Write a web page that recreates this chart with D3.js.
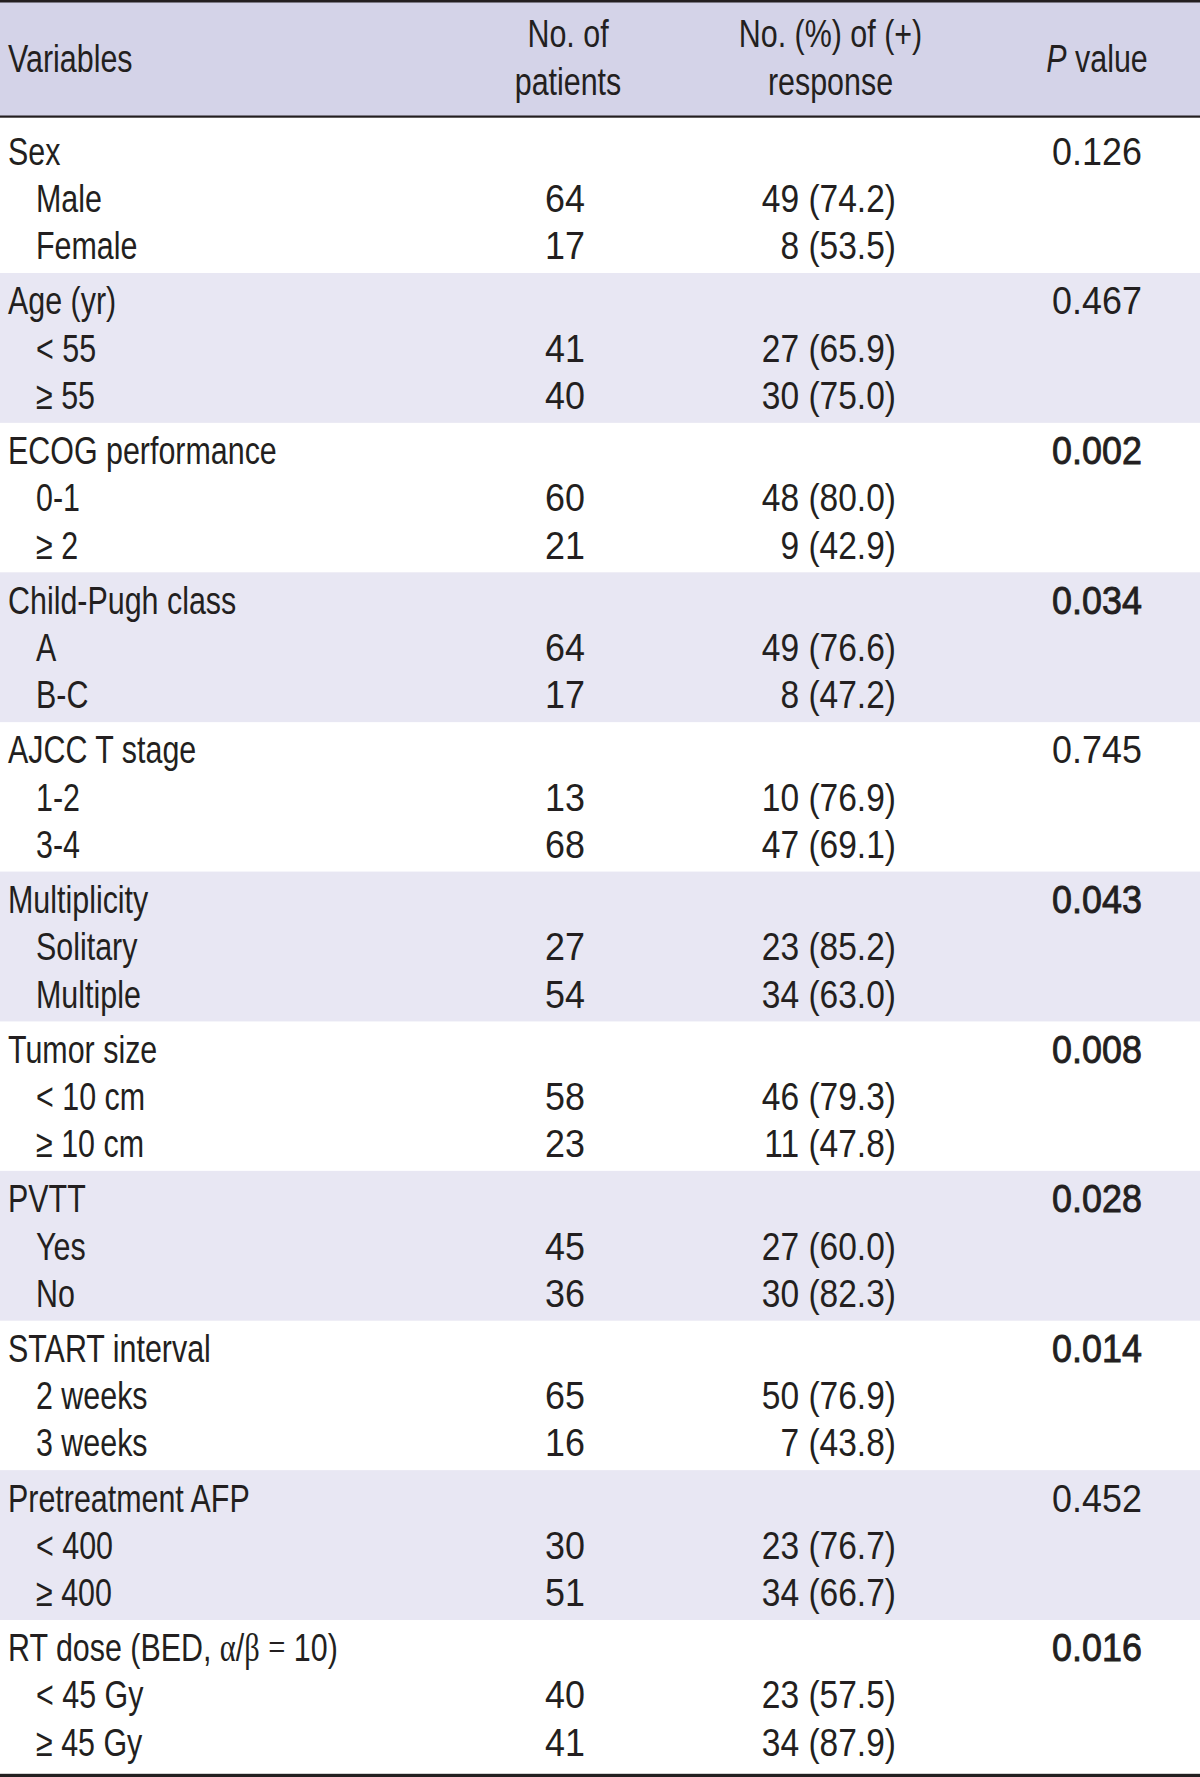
<!DOCTYPE html>
<html>
<head>
<meta charset="utf-8">
<script src="https://cdn.jsdelivr.net/npm/d3@7"></script>
<style>
  html, body { margin: 0; padding: 0; background: #ffffff; }
  svg { display: block; }
  text { font-family: 'Liberation Sans', Arial, sans-serif; fill: #231f20; }
</style>
</head>
<body>
<svg id="chart"></svg>
<script>
// ---- data ----
const groups = ["Sex", "Age (yr)", "ECOG performance", "Child-Pugh class", "AJCC T stage",
  "Multiplicity", "Tumor size", "PVTT", "START interval", "Pretreatment AFP", "RT dose (BED, α/β = 10)"];
const subLabels = [["Male", "Female"], ["< 55", "≥ 55"], ["0-1", "≥ 2"], ["A", "B-C"], ["1-2", "3-4"],
  ["Solitary", "Multiple"], ["< 10 cm", "≥ 10 cm"], ["Yes", "No"], ["2 weeks", "3 weeks"],
  ["< 400", "≥ 400"], ["< 45 Gy", "≥ 45 Gy"]];
const patients = [[64, 17], [41, 40], [60, 21], [64, 17], [13, 68], [27, 54], [58, 23], [45, 36], [65, 16], [30, 51], [40, 41]];
const responders = [[49, 8], [27, 30], [48, 9], [49, 8], [10, 47], [23, 34], [46, 11], [27, 30], [50, 7], [23, 34], [23, 34]];
const percents = [[74.2, 53.5], [65.9, 75.0], [80.0, 42.9], [76.6, 47.2], [76.9, 69.1], [85.2, 63.0], [79.3, 47.8], [60.0, 82.3], [76.9, 43.8], [76.7, 66.7], [57.5, 87.9]];
const pValues = ["0.126", "0.467", "0.002", "0.034", "0.745", "0.043", "0.008", "0.028", "0.014", "0.452", "0.016"];
const significant = [false, false, true, true, false, true, true, true, true, false, true];
const columns = ["variable", "sub", "patients", "response", "pvalue"];

// ---- layout ----
const W = 1200, H = 1777;
const FS = 39;
const SX_TEXT = 0.78;   // condensed look for words
const SX_NUM = 0.92;    // digits are less condensed
const SX_RESP = 0.86;
const ink = "#231f20";
const headerBg = "#d4d3e8";
const bandBg = "#e8e7f3";

const svg = d3.select("#chart").attr("width", W).attr("height", H);

const xCol = d3.scaleOrdinal().domain(columns).range([8, 36, 585, 896, 1097]);
const yGroup = d3.scaleBand().domain(d3.range(groups.length)).range([124, 1770]).paddingInner(0);
const step = 47.3;
const textOffset = 40.8;

function richText(t, s) {
  // Greek letters and "=" in a serif face, like the reference
  s.split(/([αβ=])/).filter(p => p.length).forEach(p => {
    const sp = t.append("tspan").text(p);
    if (/^[αβ=]$/.test(p)) sp.attr("font-family", "'Liberation Serif', serif");
  });
}

function put(sel, x, y, txt, opts = {}) {
  const t = sel.append("text")
    .attr("transform", `translate(${x},${y}) scale(${opts.sx || SX_TEXT},1)`)
    .attr("text-anchor", opts.anchor || "start")
    .attr("font-size", FS);
  if (opts.bold) t.attr("stroke", ink).attr("stroke-width", 0.9);
  if (typeof txt === "function") txt(t); else if (/[αβ]/.test(txt)) richText(t, txt); else t.text(txt);
  return t;
}

// alternating bands
svg.append("g").selectAll("rect")
  .data(d3.range(groups.length).filter(i => i % 2 === 1))
  .join("rect")
  .attr("x", 0).attr("width", W)
  .attr("y", i => yGroup(i) - 0.6)
  .attr("height", yGroup.bandwidth() + 0.2)
  .attr("fill", bandBg);

// header
svg.append("rect").attr("x", 0).attr("y", 0).attr("width", W).attr("height", 116).attr("fill", headerBg);
svg.append("rect").attr("x", 0).attr("y", 0).attr("width", W).attr("height", 2.5).attr("fill", ink);
svg.append("rect").attr("x", 0).attr("y", 115.5).attr("width", W).attr("height", 2.2).attr("fill", ink);
svg.append("rect").attr("x", 0).attr("y", 1773.8).attr("width", W).attr("height", 3.2).attr("fill", ink);

const head = svg.append("g");
put(head, xCol("variable"), 71.5, "Variables");
put(head, 568, 46.7, "No. of", { anchor: "middle" });
put(head, 568, 95, "patients", { anchor: "middle" });
put(head, 830.5, 46.7, "No. (%) of (+)", { anchor: "middle" });
put(head, 830.5, 95, "response", { anchor: "middle" });
put(head, xCol("pvalue"), 71.5, t => {
  t.append("tspan").attr("font-style", "italic").text("P");
  t.append("tspan").text(" value");
}, { anchor: "middle" });

// body
const fmt = d3.format(".1f");
const body = svg.append("g");
groups.forEach((g, i) => {
  const y0 = yGroup(i) + textOffset;
  put(body, xCol("variable"), y0, g);
  put(body, xCol("pvalue"), y0, pValues[i], { anchor: "middle", sx: SX_NUM, bold: significant[i] });
  subLabels[i].forEach((s, r) => {
    const y = y0 + (r + 1) * step;
    put(body, xCol("sub"), y, s);
    put(body, xCol("patients"), y, String(patients[i][r]), { anchor: "end", sx: SX_NUM });
    put(body, xCol("response"), y, `${responders[i][r]} (${fmt(percents[i][r])})`, { anchor: "end", sx: SX_RESP });
  });
});
</script>
</body>
</html>
